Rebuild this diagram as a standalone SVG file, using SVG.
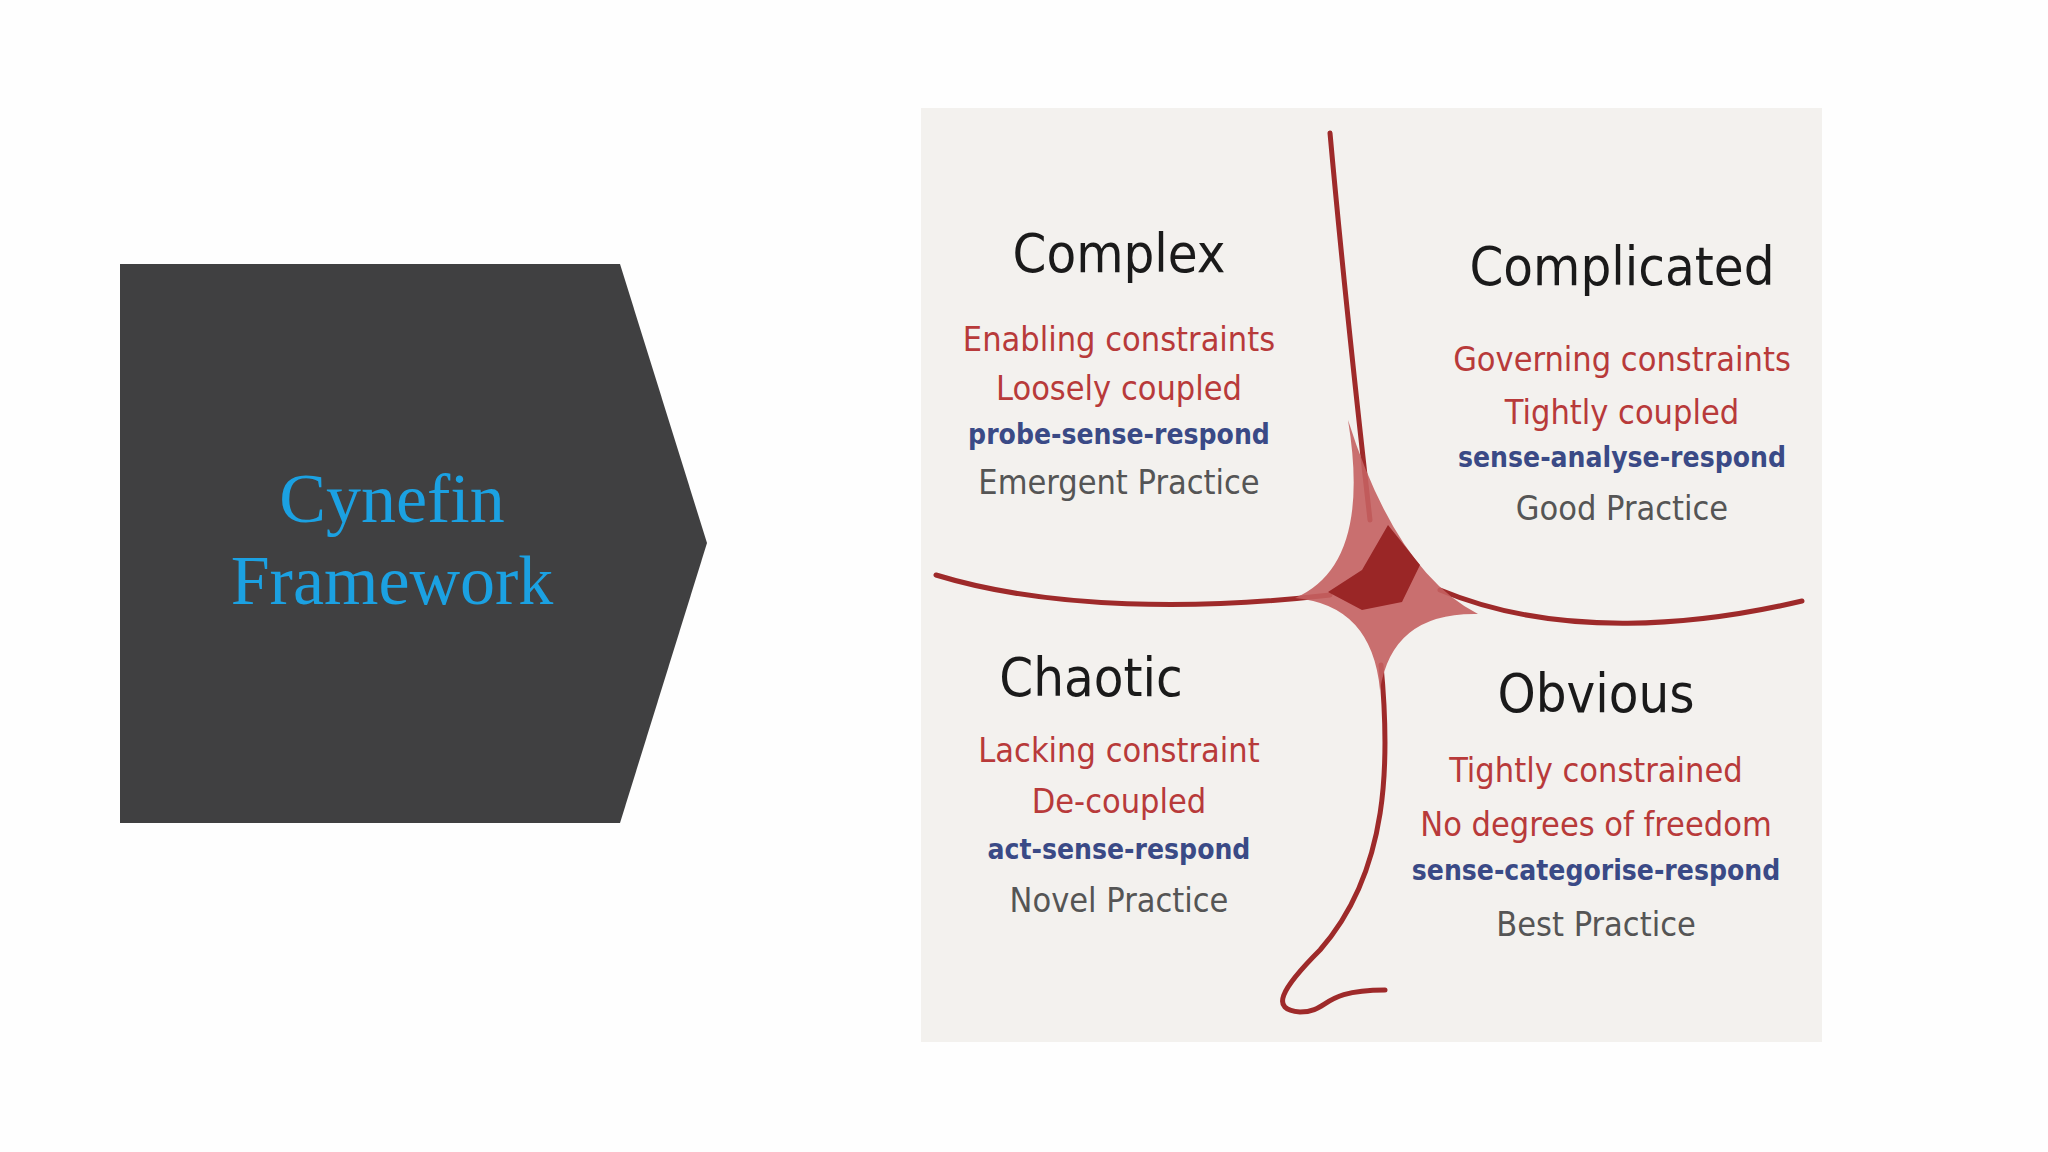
<svg xmlns="http://www.w3.org/2000/svg" width="2048" height="1152" viewBox="0 0 2048 1152">
<style>
.t{font-family:"DejaVu Sans Condensed","DejaVu Sans",sans-serif;text-anchor:middle}
.h{font-size:54px;fill:#1a1a1a}
.r{font-size:34px;fill:#b83a3a}
.b{font-size:28px;fill:#3a4a86;font-weight:bold}
.g{font-size:34px;fill:#555}
.ln{fill:none;stroke:#9e2a2a;stroke-width:5;stroke-linecap:round}
</style>
<rect width="2048" height="1152" fill="#fefefe"/>
<g id="title">
<polygon points="120,264 620,264 707,543 620,823 120,823" fill="#404041"/>
<text x="392" y="522" font-family="Liberation Serif,serif" font-size="70" fill="#1ba1e2" text-anchor="middle">Cynefin</text>
<text x="392" y="604" font-family="Liberation Serif,serif" font-size="70" fill="#1ba1e2" text-anchor="middle">Framework</text>
</g>
<rect x="921" y="108" width="901" height="934" fill="#f3f1ee"/>
<g id="connectors">
<path class="ln" d="M1330,133 C1345,300 1360,430 1370,520"/>
<path class="ln" d="M936,575 C1050,610 1200,610 1330,595"/>
<path class="ln" d="M1802,601 C1700,625 1560,640 1440,590"/>
<path class="ln" d="M1381,665 C1390,760 1390,870 1320,950 C1280,990 1270,1010 1300,1012 C1330,1012 1320,990 1385,990"/>
<path d="M1348,420 Q1372,565 1295,598 Q1372,605 1380,690 Q1392,612 1478,614 Q1396,572 1348,420 Z" fill="#c46060" opacity="0.9"/>
<path d="M1388,525 L1420,565 L1402,602 L1362,610 L1328,592 L1362,570 Z" fill="#9a2626"/>
</g>
<g id="complex" class="t">
<text x="1119" y="272" class="h">Complex</text>
<text x="1119" y="351" class="r">Enabling constraints</text>
<text x="1119" y="400" class="r">Loosely coupled</text>
<text x="1119" y="444" class="b">probe-sense-respond</text>
<text x="1119" y="494" class="g">Emergent Practice</text>
</g>
<g id="complicated" class="t">
<text x="1622" y="285" class="h">Complicated</text>
<text x="1622" y="371" class="r">Governing constraints</text>
<text x="1622" y="424" class="r">Tightly coupled</text>
<text x="1622" y="467" class="b">sense-analyse-respond</text>
<text x="1622" y="520" class="g">Good Practice</text>
</g>
<g id="chaotic" class="t">
<text x="1091" y="696" class="h">Chaotic</text>
<text x="1119" y="762" class="r">Lacking constraint</text>
<text x="1119" y="813" class="r">De-coupled</text>
<text x="1119" y="859" class="b">act-sense-respond</text>
<text x="1119" y="912" class="g">Novel Practice</text>
</g>
<g id="obvious" class="t">
<text x="1596" y="712" class="h">Obvious</text>
<text x="1596" y="782" class="r">Tightly constrained</text>
<text x="1596" y="836" class="r">No degrees of freedom</text>
<text x="1596" y="880" class="b">sense-categorise-respond</text>
<text x="1596" y="936" class="g">Best Practice</text>
</g>
</svg>
